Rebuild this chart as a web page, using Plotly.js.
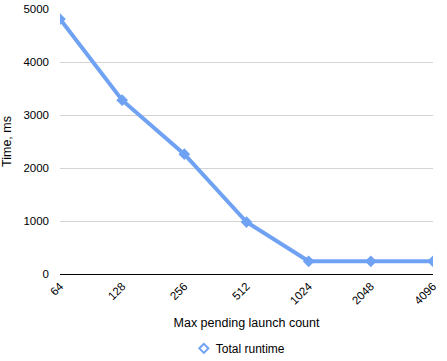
<!DOCTYPE html>
<html><head><meta charset="utf-8">
<script src="https://cdn.plot.ly/plotly-3.0.1.min.js"></script>
<style>html,body{margin:0;padding:0;background:#fff}#c{width:447px;height:361px}</style>
</head><body><div id="c"></div>
<script>
const categories = ['64','128','256','512','1024','2048','4096'];
const totalRuntime = [4810, 3280, 2260, 980, 240, 240, 240];
const seriesName = 'Total runtime';
const xTitle = 'Max pending launch count';
const yTitle = 'Time, ms';
const yTicks = [0, 1000, 2000, 3000, 4000, 5000];

const color = '#70a2f3';
const traces = [
  {x: categories, y: totalRuntime, type: 'scatter', mode: 'lines', line: {color: color, width: 4}, showlegend: false, hoverinfo: 'skip'},
  {x: categories, y: totalRuntime, type: 'scatter', mode: 'markers', name: seriesName,
   marker: {symbol: 'diamond', size: 9, color: color}}
];
const layout = {
  width: 447, height: 361,
  margin: {l: 60, r: 14, t: 9, b: 87},
  paper_bgcolor: '#fff', plot_bgcolor: '#fff',
  font: {family: 'Liberation Sans, Arial, sans-serif', size: 11.5, color: '#000'},
  xaxis: {type: 'category', range: [0, 6], tickangle: -45, showgrid: false, zeroline: false,
    showline: true, linecolor: '#000', linewidth: 1, ticks: '', automargin: false,
    title: {text: xTitle, font: {size: 12.5}, standoff: 12}},
  yaxis: {range: [0, 5000], tickvals: yTicks, showgrid: true, gridcolor: '#d4d4d4', zeroline: false,
    showline: false, ticks: '', ticklabelstandoff: 10, automargin: false,
    title: {text: yTitle, font: {size: 12.5}, standoff: 10}},
  legend: {orientation: 'h', x: 0.522, xanchor: 'center', xref: 'container', y: 0.035, yref: 'container', yanchor: 'middle', font: {size: 12}, itemwidth: 30},
  showlegend: true
};
Plotly.newPlot('c', traces, layout, {displayModeBar: false, staticPlot: true}).then(function(gd){
  gd.querySelectorAll('.legend .legendpoints path').forEach(function(p){
    p.style.fill = '#ffffff';
    p.style.stroke = color;
    p.style.strokeWidth = '2px';
    p.setAttribute('d', 'M4.5,0L0,4.5L-4.5,0L0,-4.5Z');
    p.setAttribute('transform', 'translate(28,0)');
  });
});
</script></body></html>
